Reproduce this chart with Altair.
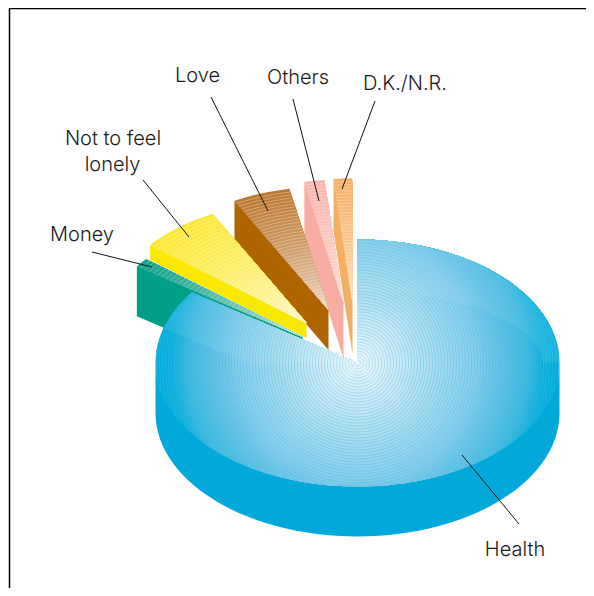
import math
import altair as alt
import pandas as pd

# shares of the pie, in percent
slices = ["D.K./N.R.", "Others", "Love", "Money", "Not to feel lonely", "Health"]
shares = [1.5, 1.6, 4.6, 1.2, 6.4, 84.7]
start_after = {"D.K./N.R.": 0.0, "Others": 1.5, "Love": 3.1, "Not to feel lonely": 7.7, "Money": 14.1}
lift_x = [-5, -14, -29, -55, -51, 0]
lift_y = [-61, -60, -53, -26, -40, 0]
depth = [52, 55, 40, 50, 15, 50]
rim_color = ["#F5B065", "#F9B5AC", "#BC7830", "#0FA48C", "#FDE835", "#00A9DA"]
wall_color = ["#F3AF62", "#F8ADA2", "#AF6400", "#009F85", "#F9E900", "#00A9DA"]
apex_color = ["#FDEBD6", "#FDE6E2", "#F3E6DA", "#E8EEED", "#FFFBDD", "#EAF6FB"]

CX, CY, RX, RY = 357.5, 363.0, 202.0, 123.5
FOLD_RX, FOLD_RY = 185.0, 72.0

def h2r(c):
    return [int(c[i:i + 2], 16) for i in (1, 3, 5)]

def mix(a, b, f):
    ra, rb = h2r(a), h2r(b)
    return "#%02x%02x%02x" % tuple(round(x + (y - x) * f) for x, y in zip(ra, rb))

rows = []
ring_rows = []
glaze_rows = []
pid = 0

def add(points, fill):
    global pid
    pid += 1
    for i, (x, y) in enumerate(points):
        rows.append({"x": round(x, 1), "y": round(y, 1), "p": pid, "i": i, "c": fill})

def add_line(points, stroke):
    global pid
    pid += 1
    for i, (x, y) in enumerate(points):
        ring_rows.append({"x": round(x, 1), "y": round(y, 1), "p": pid, "i": i, "s": stroke})

def add_glaze(points):
    global pid
    pid += 1
    for i, (x, y) in enumerate(points):
        glaze_rows.append({"x": round(x, 1), "y": round(y, 1), "p": pid, "i": i})

def pt(cx, cy, t, k=1.0):
    return cx + RX * k * math.sin(t), cy - RY * k * math.cos(t)

arc_lines = []
for name, share, lx, ly, d, rim, wall, apex in zip(slices, shares, lift_x, lift_y, depth, rim_color, wall_color, apex_color):
    if name == "Health":
        continue
    ax, ay = CX + lx, CY + ly
    t1 = -math.radians(start_after[name] * 3.6)
    t0 = t1 - math.radians(share * 3.6)
    left = pt(ax, ay, t0)
    add([left, (ax, ay), (ax, ay + d), (left[0], left[1] + d)], wall)
    n = 40
    for j in range(n, 0, -1):
        k = j / n
        col = mix(apex, rim, k ** 0.7)
        arc = [pt(ax, ay, t0 + (t1 - t0) * q / 8, k) for q in range(9)]
        add([(ax, ay)] + arc, col)
        if j < n:
            arc_lines.append((arc, mix(col, "#ffffff", 0.35)))

# Health: side wall
share = shares[-1]
front = [pt(CX, CY, math.radians(a)) for a in range(90, 271, 3)]
add(front + [(x, y + depth[-1]) for x, y in reversed(front)], wall_color[-1])

# Health: top face, round rings clipped by the ellipse
t_end = math.radians(share * 3.6)

def ell_dist(t):
    return math.hypot(RX * math.sin(t), RY * math.cos(t))

radii = list(range(204, 0, -3))
ring_pos = [0, 60, 120, 170, 186, 204]
ring_col = ["#EEF8FC", "#BCE3F2", "#84CDEA", "#3FB8E0", "#0EB0DE", "#00ADDC"]

def ring_color(r):
    for a, b, ca, cb in zip(ring_pos, ring_pos[1:], ring_col, ring_col[1:]):
        if r <= b:
            return mix(ca, cb, (r - a) / (b - a))
    return ring_col[-1]

for r in radii:
    pts = [(CX, CY)]
    steps = 150
    seg = []
    col = ring_color(r)
    for q in range(steps + 1):
        t = t_end * q / steps
        k = min(1.0, r / ell_dist(t))
        p = pt(CX, CY, t, k)
        pts.append(p)
        if k < 1.0:
            seg.append(p)
        else:
            if len(seg) > 1:
                arc_lines.append((seg, mix(col, "#45B9E0", 0.45)))
            seg = []
    if len(seg) > 1:
        arc_lines.append((seg, mix(col, "#45B9E0", 0.45)))
    add(pts, col)

for seg, col in arc_lines:
    add_line(seg, col)

# paler upper part of the Health face
inner = [(CX + FOLD_RX * math.sin(math.radians(a)), CY - FOLD_RY * math.cos(math.radians(a))) for a in range(0, 91, 3)]
outer = [pt(CX, CY, math.radians(a)) for a in range(0, 91, 3)]
add_glaze(outer + list(reversed(inner)))
rim_left = [pt(CX, CY, math.radians(a)) for a in range(270, int(share * 3.6) + 1, 3)] + [pt(CX, CY, t_end)]
fold_x = [247, 163]
fold_y = [363, 328]
add_glaze(rim_left + [(CX, CY)] + list(zip(fold_x, fold_y)))

shapes = pd.DataFrame(rows)
rings = pd.DataFrame(ring_rows)
glaze = pd.DataFrame(glaze_rows)

# leader lines
lead_x = [211, 293, 375, 143, 92, 462]
lead_y = [97, 99, 101, 180, 252, 455]
lead_x2 = [268, 319, 342, 189, 152, 519]
lead_y2 = [211, 201, 189, 237, 267, 524]
leaders = pd.DataFrame({"x": lead_x, "y": lead_y, "x2": lead_x2, "y2": lead_y2})

label_text = ["Love", "Others", "D.K./N.R.", "Not to feel", "lonely", "Money", "Health"]
label_x = [197.5, 298, 405, 113, 112.5, 82, 515]
label_y = [82, 84, 90, 145, 171, 241, 556]
labels = pd.DataFrame({"t": label_text, "x": label_x, "y": label_y})

frame = pd.DataFrame({"x": [9.5, 9.5, 586], "y": [588, 8.5, 8.5], "i": [0, 1, 2]})

xs = alt.Scale(domain=[8, 586], range=[0, 578], nice=False, zero=False)
ys = alt.Scale(domain=[8, 588], range=[0, 580], nice=False, zero=False)
X = alt.X("x:Q", scale=xs, axis=None)
Y = alt.Y("y:Q", scale=ys, axis=None)

poly = alt.Chart(shapes).mark_line(interpolate="linear-closed", strokeWidth=0).encode(
    x=X, y=Y,
    detail="p:N",
    order="i:Q",
    fill=alt.Fill("c:N", scale=None),
)
ring_lines = alt.Chart(rings).mark_line(strokeWidth=0.9).encode(
    x=X, y=Y,
    detail="p:N",
    order="i:Q",
    stroke=alt.Stroke("s:N", scale=None),
)
glaze_layer = alt.Chart(glaze).mark_line(interpolate="linear-closed", strokeWidth=0, fill="#ffffff", fillOpacity=0.08).encode(
    x=X, y=Y, detail="p:N", order="i:Q",
)
lines = alt.Chart(leaders).mark_rule(color="#111111", strokeWidth=1).encode(x=X, y=Y, x2="x2:Q", y2="y2:Q")
text = alt.Chart(labels).mark_text(font="Inter", fontSize=20, fontWeight=300, color="#1a1a1a", align="center", baseline="alphabetic").encode(
    x=X, y=Y, text="t:N")
border = alt.Chart(frame).mark_line(color="#000000", strokeWidth=1.5).encode(x=X, y=Y, order="i:Q")

chart = alt.layer(poly, ring_lines, glaze_layer, lines, text, border).properties(
    width=578, height=580, padding=0, autosize=alt.AutoSizeParams(type="none")
).configure_view(stroke=None)

chart.save("out.html", embed_options={"renderer": "svg", "actions": False})
